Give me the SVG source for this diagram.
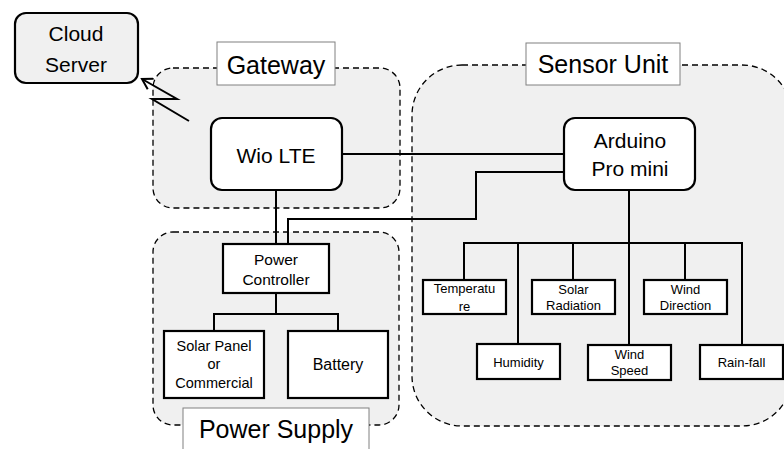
<svg xmlns="http://www.w3.org/2000/svg" width="784" height="449" viewBox="0 0 784 449">
<defs>
<marker id="arr" markerWidth="14" markerHeight="14" refX="11" refY="7" orient="auto" markerUnits="userSpaceOnUse">
<path d="M1,1 L11,7 L1,13" fill="none" stroke="#000" stroke-width="2"/>
</marker>
</defs>
<style>
text{font-family:"Liberation Sans",Arial,sans-serif;fill:#000;text-anchor:middle}
.grp{fill:#f0f0f0;stroke:#000;stroke-width:1.3;stroke-dasharray:6 4}
.lbl{fill:#fff;stroke:#808080;stroke-width:1}
.box{fill:#fff;stroke:#000;stroke-width:2.2}
.cloud{fill:#f0f0f0;stroke:#000;stroke-width:2.2}
.conn{fill:none;stroke:#000;stroke-width:2}
.big{font-size:25px}
.mid{font-size:21px}
.sm{font-size:13px}
</style>
<rect width="784" height="449" fill="#fff"/>
<g id="group-gateway">
<rect class="grp" x="153" y="68" width="247" height="140" rx="20"/>
<rect class="lbl" x="217" y="42" width="118" height="43"/>
<text class="big" x="276" y="74">Gateway</text>
</g>
<g id="group-power">
<rect class="grp" x="153" y="232" width="246" height="193" rx="20"/>
<rect class="lbl" x="183" y="408" width="186" height="50"/>
<text class="big" x="276" y="438">Power Supply</text>
</g>
<g id="group-sensor">
<rect class="grp" x="412" y="65" width="380" height="361" rx="50"/>
<rect class="lbl" x="526" y="43" width="154" height="42"/>
<text class="big" x="603" y="73">Sensor Unit</text>
</g>
<g id="connectors">
<path class="conn" d="M342 154 H564"/>
<path class="conn" d="M564 172 H476 V219 H288 V244"/>
<path class="conn" d="M276 190 V244"/>
<path class="conn" d="M276 293 V314"/>
<path class="conn" d="M214 331 V314 H338 V331"/>
<path class="conn" d="M629 190 V345"/>
<path class="conn" d="M464 280 V243 H742 V345"/>
<path class="conn" d="M518 243 V344"/>
<path class="conn" d="M573 243 V280"/>
<path class="conn" d="M685 243 V280"/>
<polyline class="conn" points="189,121 152,99 177,99 142,79" marker-end="url(#arr)"/>
</g>
<g id="cloud-server">
<rect class="cloud" x="15" y="13" width="123" height="70" rx="11"/>
<text class="mid" x="76" y="41">Cloud</text>
<text class="mid" x="76" y="72">Server</text>
</g>
<g id="wio-lte">
<rect class="box" x="211" y="118" width="131" height="72" rx="11"/>
<text class="mid" x="276" y="163">Wio LTE</text>
</g>
<g id="arduino">
<rect class="box" x="564" y="118" width="131" height="72" rx="11"/>
<text class="mid" x="630" y="148">Arduino</text>
<text class="mid" x="630" y="176">Pro mini</text>
</g>
<g id="power-controller">
<rect class="box" x="223" y="244" width="106" height="49"/>
<text x="276" y="265" font-size="15.5">Power</text>
<text x="276" y="285" font-size="15.5">Controller</text>
</g>
<g id="solar-panel">
<rect class="box" x="164" y="331" width="100" height="67"/>
<text x="214" y="351" font-size="14.5">Solar Panel</text>
<text x="214" y="369" font-size="14.5">or</text>
<text x="214" y="388" font-size="14.5">Commercial</text>
</g>
<g id="battery">
<rect class="box" x="288" y="331" width="100" height="67"/>
<text x="338" y="370" font-size="16">Battery</text>
</g>
<g id="temperature">
<rect class="box" x="423" y="280" width="83" height="34"/>
<text class="sm" x="464.5" y="293">Temperatu</text>
<text class="sm" x="464.5" y="311">re</text>
</g>
<g id="solar-radiation">
<rect class="box" x="532" y="280" width="83" height="34"/>
<text class="sm" x="573.5" y="294">Solar</text>
<text class="sm" x="573.5" y="310">Radiation</text>
</g>
<g id="wind-direction">
<rect class="box" x="644" y="280" width="83" height="34"/>
<text class="sm" x="685.5" y="294">Wind</text>
<text class="sm" x="685.5" y="310">Direction</text>
</g>
<g id="humidity">
<rect class="box" x="477" y="344" width="83" height="35"/>
<text class="sm" x="518.5" y="367">Humidity</text>
</g>
<g id="wind-speed">
<rect class="box" x="588" y="345" width="83" height="35"/>
<text class="sm" x="629.5" y="359">Wind</text>
<text class="sm" x="629.5" y="375">Speed</text>
</g>
<g id="rain-fall">
<rect class="box" x="700" y="345" width="83" height="34"/>
<text class="sm" x="741.5" y="367">Rain-fall</text>
</g>
</svg>
